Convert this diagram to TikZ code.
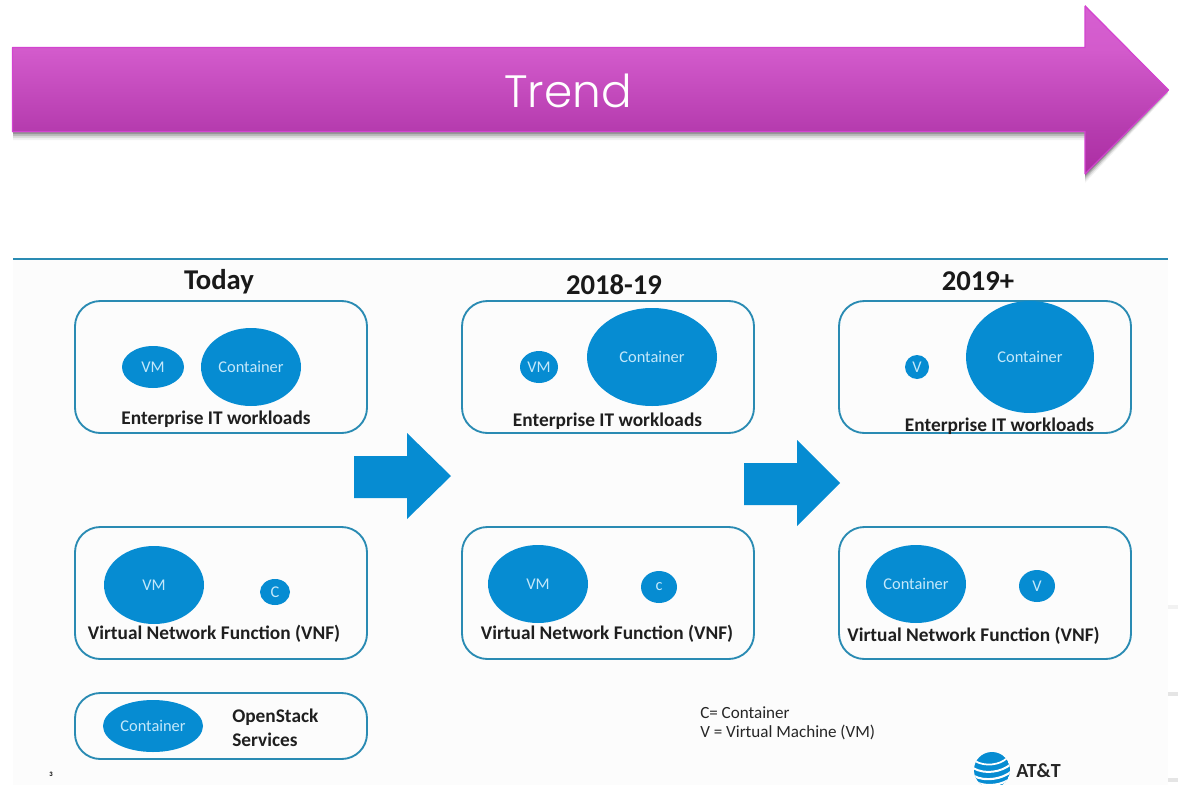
\documentclass[tikz,border=0pt]{standalone}
\usepackage{fontspec}
\setmainfont{Carlito}
\newfontfamily\trendfont[UprightFont=* Light]{Poppins}
\usetikzlibrary{shapes.geometric}
\definecolor{blueF}{HTML}{068CD2}
\definecolor{blobT}{HTML}{C4E8FA}
\definecolor{boxL}{HTML}{2A8BB3}
\definecolor{panel}{HTML}{FCFCFC}
\definecolor{tA}{HTML}{D65FD1}
\definecolor{tB}{HTML}{D35BCC}
\definecolor{tC}{HTML}{B53BAE}
\definecolor{tD}{HTML}{AC2DA3}
\definecolor{tE}{HTML}{D344D0}
\pgfdeclareverticalshading{trendshade}{100bp}{color(0bp)=(tD); color(25bp)=(tD); color(38bp)=(tC); color(62bp)=(tB); color(75bp)=(tA); color(100bp)=(tA)}
\tikzset{
  x=0.75pt,y=-0.75pt,
  wbox/.style={draw=boxL,line width=1.4pt,rounded corners=19pt},
  blob/.style={draw=none,fill=blueF,ellipse,inner sep=0pt,text=blobT,font=\fontsize{12.3}{14}\selectfont},
  wlabel/.style={font=\bfseries\fontsize{14.5}{16}\selectfont,text=black!88,inner sep=0pt},
  ttl/.style={font=\bfseries\fontsize{21.5}{24}\selectfont,text=black!90,inner sep=0pt},
  bigarrow/.style={fill=blueF,draw=none},
  note/.style={font=\fontsize{12.8}{15}\selectfont,text=black!85,inner sep=0pt,anchor=west},
}
\newcommand{\wb}[5]{\draw[wbox] (#2,#3) rectangle (#4,#5) node[midway,inner sep=0pt] (#1) {};}
\newcommand{\bl}[6]{\node[blob,minimum width=#4*1.5pt,minimum height=#5*1.5pt] (#1) at (#2,#3) {#6};}
\begin{document}
\begin{tikzpicture}
\useasboundingbox (0,0) rectangle (1178,785);
\fill[white] (0,0) rectangle (1178,785);
\fill[panel] (13,259) rectangle (1168,785);
\fill[black!10] (1168,692) rectangle (1178,696);
\fill[black!10] (1168,778) rectangle (1178,782);
\fill[black!5] (1168,605) rectangle (1178,609);
\draw[boxL,line width=0.8pt] (13,259) -- (1168,259);
% Trend arrow shadow
\foreach \d/\o in {8/0.05,6/0.09,4/0.14,2/0.2}
  \fill[black,opacity=\o] (13,47+\d) -- (1085,47+\d) -- (1085,5+\d) -- (1168,90+\d*0.5) -- (1085,175+\d) -- (1085,132+\d) -- (13,132+\d) -- cycle;
\shade[shading=trendshade,draw=none] (12,47) -- (1085,47) -- (1085,5) -- (1169,90) -- (1085,175) -- (1085,132) -- (12,132) -- cycle;
\draw[draw=tE,line width=0.8pt,line join=bevel] (12.5,47.5) -- (1085,47.5) -- (1085,6) -- (1168.5,90) -- (1085,174) -- (1085,131.5) -- (12.5,131.5) -- cycle;
\node[text=white,inner sep=0pt,font=\trendfont\fontsize{34}{38}\selectfont] (trend) at (568,90.5) {Trend};
% titles
\node[ttl] (t1) at (219,282) {Today};
\node[ttl] (t2) at (614,285) {2018-19};
\node[ttl] (t3) at (978,281) {2019+};
% boxes
\wb{b11}{75}{301}{367}{433}
\wb{b12}{75}{527}{367}{659}
\wb{b13}{75}{693}{367}{759}
\wb{b21}{462}{301}{754}{433}
\wb{b22}{462}{527}{754}{659}
\wb{b31}{839}{301}{1131}{433}
\wb{b32}{839}{527}{1131}{659}
% ellipses
\bl{e1}{153}{367}{31}{21}{VM}
\bl{e2}{251}{367}{50}{39}{Container}
\bl{e3}{539}{367}{19}{16}{VM}
\bl{e4}{652}{357}{65}{49}{Container}
\bl{e5}{917}{367}{12}{12}{V}
\bl{e6}{1030}{357}{64}{56}{Container}
\bl{e7}{154}{585}{50}{39}{VM}
\bl{e8}{275}{592}{15}{13}{C}
\bl{e9}{538}{584}{50}{39}{VM}
\bl{e10}{659}{587}{18}{16}{c}
\bl{e11}{916}{584}{50}{39}{Container}
\bl{e12}{1037}{586}{18}{16}{V}
\bl{e13}{153}{726}{50}{26}{Container}
% labels
\node[wlabel] (l1) at (216,419) {Enterprise IT workloads};
\node[wlabel] (l2) at (607.5,421) {Enterprise IT workloads};
\node[wlabel] (l3) at (999.5,426) {Enterprise IT workloads};
\node[wlabel] (l4) at (214,634) {Virtual Network Function (VNF)};
\node[wlabel] (l5) at (607,634) {Virtual Network Function (VNF)};
\node[wlabel] (l6) at (973.5,636) {Virtual Network Function (VNF)};
\node[wlabel,anchor=west] (l7) at (232,717) {OpenStack};
\node[wlabel,anchor=west] (l8) at (232,740) {Services};
% big arrows
\fill[bigarrow] (354,456) -- (407,456) -- (407,433) -- (451,476) -- (407,519) -- (407,498) -- (354,498) -- cycle;
\fill[bigarrow] (744,463) -- (797,463) -- (797,440) -- (840,483) -- (797,526) -- (797,505) -- (744,505) -- cycle;
% legend
\node[note] (n1) at (700,712.5) {C= Container};
\node[note] (n2) at (700,732.5) {V = Virtual Machine (VM)};
\node[font=\bfseries\fontsize{5}{6}\selectfont,inner sep=0pt] (pg) at (51,774) {3};
% logo
\begin{scope}
\clip (0,0) rectangle (1178,785);
\clip (992,770) circle[radius=18];
\fill[blueF] (992,770) circle[radius=18];
\draw[white,line width=1.3pt] (975,761) .. controls (985,767) and (1000,765) .. (1007,758);
\draw[white,line width=1.5pt] (973,768) .. controls (985,775) and (1002,772) .. (1011,764);
\draw[white,line width=1.6pt] (974,776) .. controls (985,782) and (1003,779) .. (1012,771);
\draw[white,line width=1.6pt] (978,783) .. controls (988,787) and (1003,785) .. (1011,778);
\end{scope}
\node[font=\bfseries\fontsize{15}{18}\selectfont,text=black!85,inner sep=0pt,anchor=west] (att) at (1016,771) {AT\&T};
\end{tikzpicture}
\end{document}
